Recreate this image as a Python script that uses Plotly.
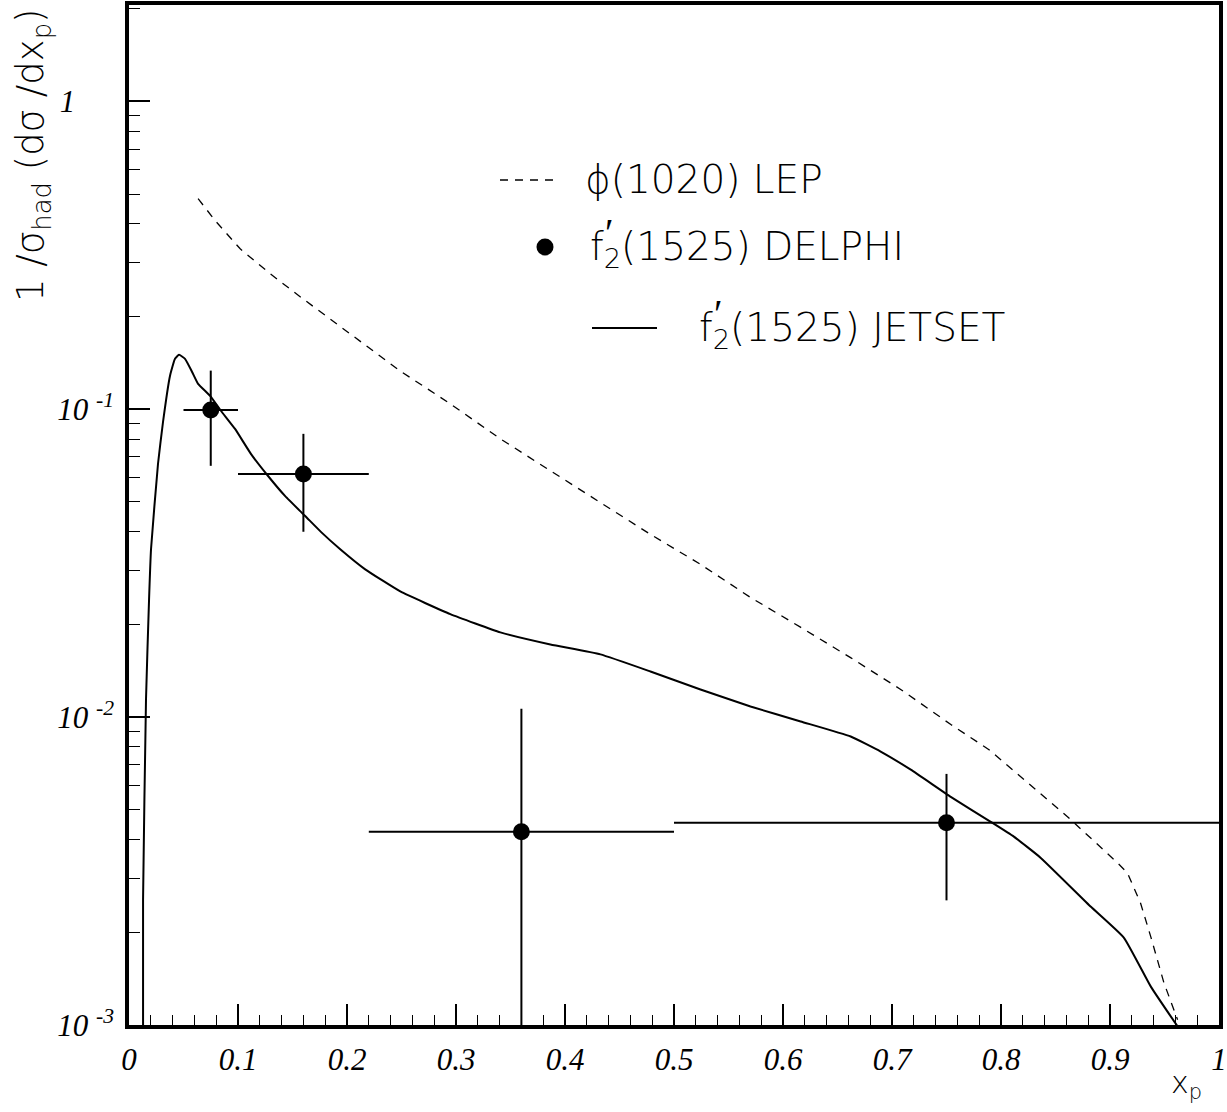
import plotly.graph_objects as go

# ---------------- data ----------------
# phi(1020) LEP (dashed)
lep_x = [0.0634, 0.079, 0.102, 0.1295, 0.157, 0.203, 0.249, 0.295, 0.341, 0.387,
         0.4325, 0.478, 0.524, 0.570, 0.616, 0.662, 0.708, 0.754, 0.789, 0.821,
         0.861, 0.907, 0.916, 0.928, 0.9375, 0.9495, 0.962]
lep_y = [0.483, 0.410, 0.332, 0.2756, 0.232, 0.176, 0.133, 0.104, 0.080, 0.063,
         0.0499, 0.0393, 0.0314, 0.0245, 0.0196, 0.0156, 0.0123, 0.00946, 0.00784, 0.00626,
         0.00475, 0.00336, 0.00312, 0.00249, 0.00193, 0.00137, 0.00104]

# f2'(1525) JETSET (solid)
jet_x = [0.0129, 0.0129, 0.0156, 0.0184, 0.0202, 0.0266, 0.0312, 0.0376, 0.0422, 0.0459,
         0.0514, 0.0579, 0.0634, 0.0744, 0.0845, 0.0973, 0.112, 0.1276, 0.1433, 0.1616,
         0.1763, 0.1938, 0.2167, 0.2489, 0.2948, 0.3407, 0.3866, 0.4325, 0.4784, 0.5243,
         0.5702, 0.6162, 0.6621, 0.6896, 0.7172, 0.7539, 0.7906, 0.8118, 0.8365, 0.8825,
         0.9128, 0.9376, 0.9624]
jet_y = [0.00095, 0.00255, 0.01141, 0.02414, 0.0351, 0.0664, 0.0909, 0.1283, 0.1458, 0.1502,
         0.1458, 0.1322, 0.1209, 0.1105, 0.0987, 0.0863, 0.0715, 0.0607, 0.0522, 0.0450,
         0.0399, 0.0351, 0.0302, 0.0256, 0.0216, 0.01885, 0.01722, 0.01599, 0.01407, 0.0123,
         0.01083, 0.00968, 0.00865, 0.00773, 0.00675, 0.00551, 0.00457, 0.00409, 0.00349, 0.00242,
         0.00192, 0.00133, 0.000985]

# f2'(1525) DELPHI (points)
pt_x = [0.075, 0.16, 0.36, 0.75]
pt_y = [0.0995, 0.0616, 0.00424, 0.00454]
pt_xerr = [0.025, 0.06, 0.14, 0.25]
pt_yerr = [0.034, 0.0216, 0.0064, 0.002]

y_tickvals = [0.001, 0.01, 0.1, 1]
y_ticktext = ["10\u00a0<sup>-3</sup>", "10\u00a0<sup>-2</sup>", "10\u00a0<sup>-1</sup>",
              "1\u00a0\u00a0\u00a0\u00a0\u00a0"]
y_minor = [k * 10.0 ** e for e in (-3, -2, -1, 0) for k in range(2, 10) if k * 10.0 ** e < 2.05]

# ---------------- figure ----------------
fig = go.Figure()

fig.add_trace(go.Scatter(x=lep_x, y=lep_y, mode="lines",
                         line=dict(color="black", width=1.3, dash="8px,7px"),
                         showlegend=False, hoverinfo="skip"))
fig.add_trace(go.Scatter(x=jet_x, y=jet_y, mode="lines",
                         line=dict(color="black", width=2, shape="spline", smoothing=0.4),
                         showlegend=False, hoverinfo="skip"))
fig.add_trace(go.Scatter(x=pt_x, y=pt_y, mode="markers",
                         marker=dict(color="black", size=17, symbol="circle"),
                         error_x=dict(type="data", array=pt_xerr, color="black", thickness=2, width=0),
                         error_y=dict(type="data", array=pt_yerr, color="black", thickness=2, width=0),
                         showlegend=False, hoverinfo="skip"))

tickfont = dict(family="Liberation Serif", size=31, color="black", style="italic")
axis_common = dict(showline=True, linewidth=3.5, linecolor="black", mirror=True,
                   ticks="inside", tickwidth=1.5, tickcolor="black", ticklen=21,
                   showgrid=False, zeroline=False, tickfont=tickfont)

fig.update_xaxes(range=[0, 1], dtick=0.1, tick0=0,
                 minor=dict(dtick=0.02, ticks="inside", ticklen=10, tickwidth=1.2, tickcolor="black"),
                 ticklabelstandoff=4, **axis_common)
fig.update_yaxes(type="log", range=[-3, 0.313],
                 tickmode="array", tickvals=y_tickvals, ticktext=y_ticktext,
                 minor=dict(tickmode="array", tickvals=y_minor, ticks="inside", ticklen=11,
                            tickwidth=1.2, tickcolor="black"),
                 ticklabelstandoff=5, **axis_common)

L, R, T, B = 129, 8, 5, 87
W, H = 1227, 1112
pw, ph = W - L - R, H - T - B


def px(xp):
    return (xp - L) / pw


def py(yp):
    return (H - B - yp) / ph


legend_font = dict(family="DejaVu Sans", size=39, color="black", weight=300)
shapes = [
    dict(type="line", xref="paper", yref="paper", x0=px(500), x1=px(557), y0=py(180), y1=py(180),
         line=dict(color="black", width=1.3, dash="8px,7px")),
    dict(type="circle", xref="paper", yref="paper", xsizemode="pixel", ysizemode="pixel",
         xanchor=px(545), yanchor=py(247), x0=-8.5, x1=8.5, y0=-8.5, y1=8.5,
         fillcolor="black", line=dict(color="black", width=0)),
    dict(type="line", xref="paper", yref="paper", x0=px(592), x1=px(657), y0=py(328), y1=py(328),
         line=dict(color="black", width=2)),
]
annotations = [
    dict(text="\u03d5(1020) LEP", x=px(583), y=py(180), xanchor="left", yanchor="middle"),
    dict(text="f<sub>2</sub>(1525) DELPHI", x=px(588), y=py(249), xanchor="left", yanchor="middle"),
    dict(text="\u2032", x=px(603), y=py(232), xanchor="left", yanchor="middle"),
    dict(text="f<sub>2</sub>(1525) JETSET", x=px(697), y=py(330), xanchor="left", yanchor="middle"),
    dict(text="\u2032", x=px(712), y=py(313), xanchor="left", yanchor="middle"),
]
for a in annotations:
    a.update(xref="paper", yref="paper", showarrow=False, font=legend_font)

annotations.append(dict(text="1 /\u03c3<sub>had</sub> (d\u03c3 /dx<sub>p</sub>)", textangle=-90,
                        xref="paper", yref="paper", x=px(33), y=py(6), xanchor="center", yanchor="top",
                        showarrow=False, font=dict(family="DejaVu Sans", size=37, color="black", weight=300)))
annotations.append(dict(text="x<sub>p</sub>", xref="paper", yref="paper", x=px(1186), y=py(1084),
                        xanchor="center", yanchor="middle", showarrow=False,
                        font=dict(family="DejaVu Sans", size=30, color="black", weight=300)))

fig.update_layout(width=W, height=H, margin=dict(l=L, r=R, t=T, b=B, autoexpand=False),
                  paper_bgcolor="white", plot_bgcolor="white",
                  shapes=shapes, annotations=annotations, showlegend=False)

fig.write_html("out.html", config={"displayModeBar": False},
               post_script="document.body.style.margin='0px';")
